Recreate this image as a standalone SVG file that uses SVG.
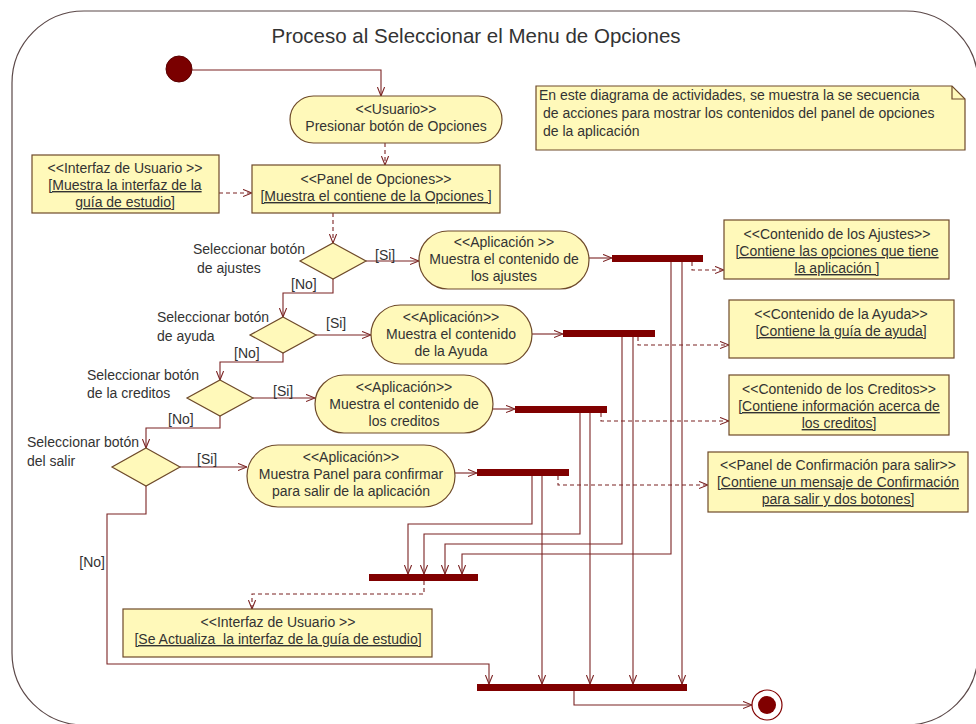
<svg xmlns="http://www.w3.org/2000/svg" width="976" height="724" viewBox="0 0 976 724">
<style>
text{font-family:"Liberation Sans",Arial,sans-serif;font-size:14px;fill:#333}
.c{text-anchor:middle}
.u{text-decoration:underline}
.act{fill:#FFF9BA;stroke:#6e4a2a;stroke-width:1.2}
.box{fill:#FFF9BA;stroke:#6e4a2a;stroke-width:1.2}
.dec{fill:#FFF9BA;stroke:#6e4a2a;stroke-width:1.2}
.bar{fill:#800000}
.ln{fill:none;stroke:#7b2323;stroke-width:1.1;marker-end:url(#arr)}
.ds{fill:none;stroke:#7b2323;stroke-width:1.1;stroke-dasharray:4,3;marker-end:url(#arr)}
</style>
<defs>
<marker id="arr" viewBox="0 0 10 10" refX="10" refY="5" markerWidth="9" markerHeight="9" markerUnits="userSpaceOnUse" orient="auto">
<path d="M0,1 L10,5 L0,9" fill="none" stroke="#7b2323" stroke-width="1.2"/>
</marker>
</defs>
<rect width="976" height="724" fill="#fff"/>
<g id="frame">
<rect x="12" y="11" width="966" height="714" rx="72" ry="72" fill="none" stroke="#5b4848" stroke-width="1.2"/>
<text x="476" y="43" class="c" style="font-size:20.5px">Proceso al Seleccionar el Menu de Opciones</text>
</g>
<g id="connectors">
<path class="ln" d="M192,70 H381 V96"/>
<path class="ds" d="M385,143 V165"/>
<path class="ds" d="M219,193 H252"/>
<path class="ds" d="M333,213 V243"/>
<path class="ln" d="M366,261 H419"/>
<path class="ln" d="M589,258 H612"/>
<path class="ds" d="M692,262 V270 H724"/>
<path class="ln" d="M333,279 V293 H283 V317"/>
<path class="ln" d="M316,335 H371"/>
<path class="ln" d="M532,334 H563"/>
<path class="ds" d="M638,337 V345 H729"/>
<path class="ln" d="M283,353 V362 H220 V380"/>
<path class="ln" d="M253,398 H315"/>
<path class="ln" d="M493,409 H515"/>
<path class="ds" d="M601,413 V421 H729"/>
<path class="ln" d="M220,416 V428 H146 V448"/>
<path class="ln" d="M180,467 H247"/>
<path class="ln" d="M455,473 H477"/>
<path class="ds" d="M558,476 V485 H708"/>
<path class="ln" d="M146,486 V514 H107 V664 H489 V684"/>
<path class="ln" d="M532,476 V524 H408 V574"/>
<path class="ln" d="M542,476 V684"/>
<path class="ln" d="M580,413 V534 H424 V574"/>
<path class="ln" d="M590,413 V684"/>
<path class="ln" d="M622,337 V544 H445 V574"/>
<path class="ln" d="M633,337 V684"/>
<path class="ln" d="M671,262 V554 H462 V574"/>
<path class="ln" d="M682,262 V684"/>
<path class="ds" d="M424,581 V594 H252 V609"/>
<path class="ln" d="M574,691 V705 H752"/>
</g>
<g id="start"><circle cx="179" cy="69" r="13" fill="#7a0000" stroke="#5a0000"/></g>
<g id="usuario">
<rect class="act" x="290" y="96" width="212" height="47" rx="23.5"/>
<text x="396" y="114" class="c">&lt;&lt;Usuario&gt;&gt;</text>
<text x="396" y="131" class="c">Presionar botón de Opciones</text>
</g>
<g id="interfaz1">
<rect class="box" x="32" y="155" width="187" height="58"/>
<text x="125" y="173" class="c">&lt;&lt;Interfaz de Usuario &gt;&gt;</text>
<text x="125" y="190" class="c u">[Muestra la interfaz de la</text>
<text x="125" y="207" class="c u">guía de estudio]</text>
</g>
<g id="panel">
<rect class="box" x="252" y="165" width="248" height="48"/>
<text x="376" y="184" class="c">&lt;&lt;Panel de Opciones&gt;&gt;</text>
<text x="376" y="201" class="c u">[Muestra el contiene de la Opciones ]</text>
</g>
<g id="note">
<path d="M536,86 H952 L965,99 V150 H536 Z" fill="#FFF9BA" stroke="#6e4a2a" stroke-width="1.2"/>
<path d="M952,86 V99 H965" fill="none" stroke="#6e4a2a" stroke-width="1.2"/>
<text x="539" y="100">En este diagrama de actividades, se muestra la se secuencia</text>
<text x="543" y="118">de acciones para mostrar los contenidos del panel de opciones</text>
<text x="543" y="136">de la aplicación</text>
</g>
<g id="d1">
<path class="dec" d="M333,243 L366,261 L333,279 L300,261 Z"/>
<text x="193" y="254">Seleccionar botón</text>
<text x="197" y="273">de ajustes</text>
<text x="375" y="260">[Si]</text>
<text x="291" y="289">[No]</text>
</g>
<g id="a1">
<rect class="act" x="419" y="231" width="170" height="58" rx="29"/>
<text x="504" y="247" class="c">&lt;&lt;Aplicación &gt;&gt;</text>
<text x="504" y="264" class="c">Muestra el contenido de</text>
<text x="504" y="281" class="c">los ajustes</text>
</g>
<g id="d2">
<path class="dec" d="M283,317 L316,335 L283,353 L250,335 Z"/>
<text x="157" y="322">Seleccionar botón</text>
<text x="157" y="341">de ayuda</text>
<text x="326" y="328">[Si]</text>
<text x="234" y="358">[No]</text>
</g>
<g id="a2">
<rect class="act" x="371" y="305" width="161" height="59" rx="29.5"/>
<text x="451" y="322" class="c">&lt;&lt;Aplicación&gt;&gt;</text>
<text x="451" y="339" class="c">Muestra el contenido</text>
<text x="451" y="356" class="c">de la Ayuda</text>
</g>
<g id="d3">
<path class="dec" d="M220,380 L253,398 L220,416 L187,398 Z"/>
<text x="87" y="380">Seleccionar botón</text>
<text x="87" y="398">de la creditos</text>
<text x="273" y="396">[Si]</text>
<text x="168" y="424">[No]</text>
</g>
<g id="a3">
<rect class="act" x="315" y="375" width="178" height="58" rx="29"/>
<text x="404" y="392" class="c">&lt;&lt;Aplicación&gt;&gt;</text>
<text x="404" y="409" class="c">Muestra el contenido de</text>
<text x="404" y="426" class="c">los creditos</text>
</g>
<g id="d4">
<path class="dec" d="M146,448 L180,467 L146,486 L112,467 Z"/>
<text x="27" y="447">Seleccionar botón</text>
<text x="27" y="466">del salir</text>
<text x="197" y="464">[Si]</text>
<text x="105" y="567" style="text-anchor:end">[No]</text>
</g>
<g id="a4">
<rect class="act" x="247" y="445" width="208" height="62" rx="31"/>
<text x="351" y="462" class="c">&lt;&lt;Aplicación&gt;&gt;</text>
<text x="351" y="479" class="c">Muestra Panel para confirmar</text>
<text x="351" y="496" class="c">para salir de la aplicación</text>
</g>
<g id="bars">
<rect class="bar" x="612" y="255" width="91" height="7"/>
<rect class="bar" x="563" y="330" width="92" height="7"/>
<rect class="bar" x="515" y="406" width="92" height="7"/>
<rect class="bar" x="477" y="469" width="92" height="7"/>
<rect class="bar" x="369" y="574" width="109" height="7"/>
<rect class="bar" x="477" y="684" width="210" height="7"/>
</g>
<g id="n1">
<rect class="box" x="724" y="220" width="225" height="59"/>
<text x="837" y="239" class="c">&lt;&lt;Contenido de los Ajustes&gt;&gt;</text>
<text x="837" y="256" class="c u">[Contiene las opciones que tiene</text>
<text x="837" y="273" class="c u">la aplicación ]</text>
</g>
<g id="n2">
<rect class="box" x="729" y="300" width="225" height="58"/>
<text x="841" y="319" class="c">&lt;&lt;Contenido de la Ayuda&gt;&gt;</text>
<text x="841" y="336" class="c u">[Contiene la guía de ayuda]</text>
</g>
<g id="n3">
<rect class="box" x="729" y="375" width="220" height="60"/>
<text x="839" y="394" class="c">&lt;&lt;Contenido de los Creditos&gt;&gt;</text>
<text x="839" y="411" class="c u">[Contiene información acerca de</text>
<text x="839" y="428" class="c u">los creditos]</text>
</g>
<g id="n4">
<rect class="box" x="708" y="452" width="260" height="60"/>
<text x="838" y="470" class="c">&lt;&lt;Panel de Confirmación para salir&gt;&gt;</text>
<text x="838" y="487" class="c u">[Contiene un mensaje de Confirmación</text>
<text x="838" y="504" class="c u">para salir y dos botones]</text>
</g>
<g id="interfaz2">
<rect class="box" x="123" y="609" width="309" height="48"/>
<text x="278" y="627" class="c">&lt;&lt;Interfaz de Usuario &gt;&gt;</text>
<text x="278" y="644" class="c u" xml:space="preserve">[Se Actualiza  la interfaz de la guía de estudio]</text>
</g>
<g id="final">
<circle cx="767" cy="705" r="15" fill="#fff" stroke="#800000" stroke-width="1.2"/>
<circle cx="767" cy="705" r="9" fill="#800000"/>
</g>
</svg>
